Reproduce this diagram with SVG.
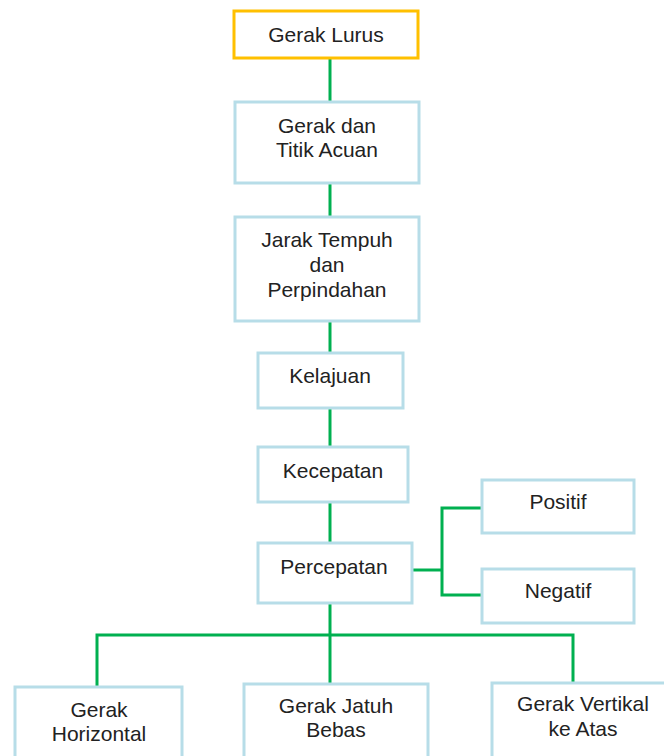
<svg xmlns="http://www.w3.org/2000/svg" width="664" height="756" viewBox="0 0 664 756">
  <style>
    .box { fill: #ffffff; stroke: #b7dde8; stroke-width: 3; }
    .root { fill: #ffffff; stroke: #ffc000; stroke-width: 3; }
    .lbl { font-family: "Liberation Sans", Arial, sans-serif; font-size: 21px; fill: #222222; text-anchor: middle; }
    .link { fill: none; stroke: #00b050; stroke-width: 3; }
  </style>
  <rect width="664" height="756" fill="#ffffff"/>

  <g id="connectors">
    <line class="link" x1="330" y1="58" x2="330" y2="102"/>
    <line class="link" x1="330" y1="183" x2="330" y2="217"/>
    <line class="link" x1="330" y1="321" x2="330" y2="353"/>
    <line class="link" x1="330" y1="408" x2="330" y2="447"/>
    <line class="link" x1="330" y1="502" x2="330" y2="543"/>
    <polyline class="link" points="412,570 442,570"/>
    <polyline class="link" points="482,508 442,508 442,595 482,595"/>
    <line class="link" x1="330" y1="603" x2="330" y2="684"/>
    <polyline class="link" points="97,687 97,635 573,635 573,683"/>
  </g>

  <g id="gerak-lurus">
    <rect class="root" x="234" y="11" width="184" height="47"/>
    <text class="lbl" x="326" y="42">Gerak Lurus</text>
  </g>

  <g id="gerak-titik-acuan">
    <rect class="box" x="235" y="102" width="184" height="81"/>
    <text class="lbl" x="327" y="133">Gerak dan</text>
    <text class="lbl" x="327" y="157">Titik Acuan</text>
  </g>

  <g id="jarak-perpindahan">
    <rect class="box" x="235" y="217" width="184" height="104"/>
    <text class="lbl" x="327" y="247">Jarak Tempuh</text>
    <text class="lbl" x="327" y="272">dan</text>
    <text class="lbl" x="327" y="297">Perpindahan</text>
  </g>

  <g id="kelajuan">
    <rect class="box" x="258" y="353" width="145" height="55"/>
    <text class="lbl" x="330" y="383">Kelajuan</text>
  </g>

  <g id="kecepatan">
    <rect class="box" x="258" y="447" width="150" height="55"/>
    <text class="lbl" x="333" y="478">Kecepatan</text>
  </g>

  <g id="percepatan">
    <rect class="box" x="258" y="543" width="154" height="60"/>
    <text class="lbl" x="334" y="574">Percepatan</text>
  </g>

  <g id="positif">
    <rect class="box" x="482" y="480" width="152" height="53"/>
    <text class="lbl" x="558" y="509">Positif</text>
  </g>

  <g id="negatif">
    <rect class="box" x="482" y="569" width="152" height="54"/>
    <text class="lbl" x="558" y="598">Negatif</text>
  </g>

  <g id="gerak-horizontal">
    <rect class="box" x="15" y="687" width="167" height="90"/>
    <text class="lbl" x="99" y="717">Gerak</text>
    <text class="lbl" x="99" y="741">Horizontal</text>
  </g>

  <g id="gerak-jatuh-bebas">
    <rect class="box" x="244" y="684" width="184" height="93"/>
    <text class="lbl" x="336" y="713">Gerak Jatuh</text>
    <text class="lbl" x="336" y="737">Bebas</text>
  </g>

  <g id="gerak-vertikal">
    <rect class="box" x="492" y="683" width="184" height="94"/>
    <text class="lbl" x="583" y="711">Gerak Vertikal</text>
    <text class="lbl" x="583" y="736">ke Atas</text>
  </g>
</svg>
